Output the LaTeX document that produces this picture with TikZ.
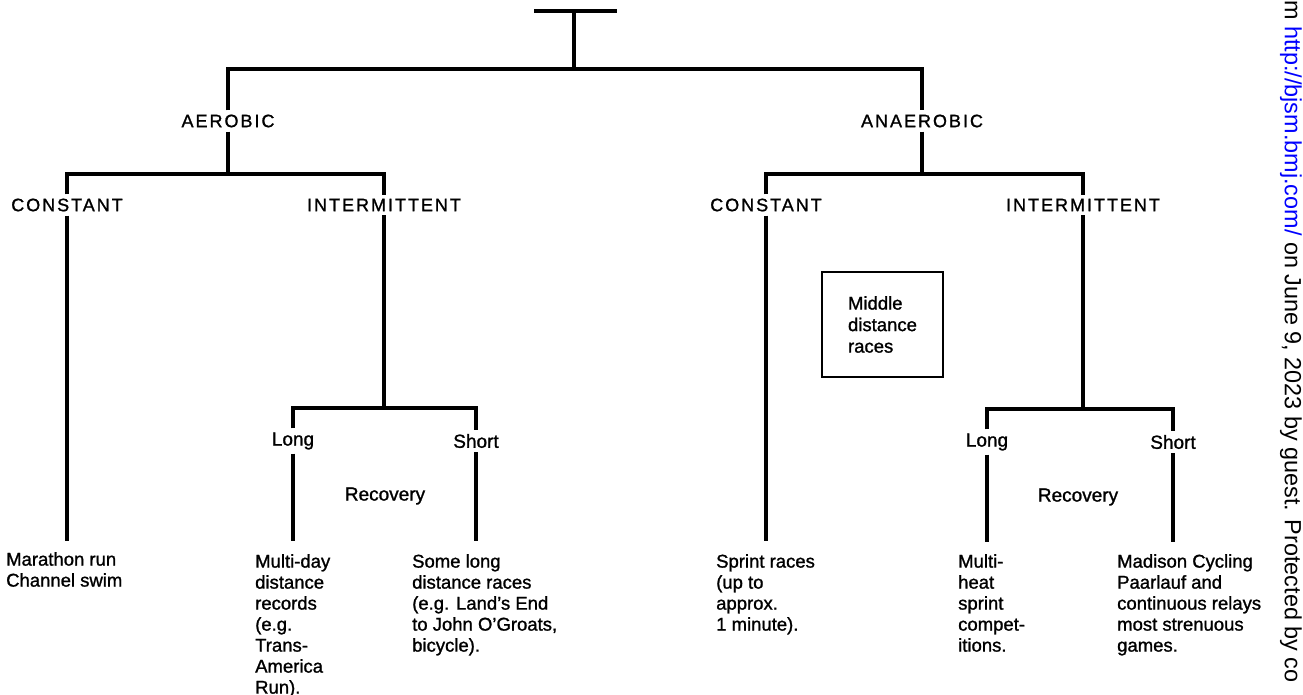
\documentclass[tikz,border=0pt]{standalone}
\usepackage{fontspec}
\setmainfont[FakeBold=1.2]{Liberation Sans}
\newfontfamily\capsfont[LetterSpace=11,FakeBold=1.2]{Liberation Sans}
\newfontfamily\wmfont{Liberation Sans}
\begin{document}
\begin{tikzpicture}[x=1pt,y=-1pt,
  br/.style={draw=black, line width=3.1pt, line join=miter},
  capslab/.style={font=\capsfont\fontsize{18}{21}\selectfont, inner sep=4pt},
  lab/.style={font=\fontsize{19}{21}\selectfont, inner sep=4pt},
  txt/.style={font=\fontsize{18.5}{21}\selectfont, align=left, anchor=north west, inner sep=0pt},
  boxnode/.style={draw=black, line width=2.6pt, minimum width=121pt, minimum height=105pt, align=left, font=\fontsize{18.5}{21.5}\selectfont}]
\useasboundingbox (0,0) rectangle (1303,695);
% top
\coordinate (tl) at (534,11);
\coordinate (tr) at (617,11);
\coordinate (tm) at (574,11);
\coordinate (j0) at (574,69);
\coordinate (aL) at (228,69);
\coordinate (aR) at (922,69);
\node[capslab] (aer) at (228,121) {AEROBIC};
\node[capslab] (ana) at (922,121) {ANAEROBIC};
\draw[br] (tl) -- (tr);
\draw[br] (tm) -- (j0);
\draw[br] (aer) -- (aL) -- (aR) -- (ana);
% aerobic split
\coordinate (a1) at (228,174);
\coordinate (acL) at (67,174);
\coordinate (aiR) at (384,174);
\node[capslab] (acon) at (67,205) {CONSTANT};
\node[capslab] (aint) at (384,205) {INTERMITTENT};
\draw[br] (aer) -- (a1);
\draw[br] (acon) -- (acL) -- (aiR) -- (aint);
% anaerobic split
\coordinate (n1) at (922,174);
\coordinate (ncL) at (766,174);
\coordinate (niR) at (1083,174);
\node[capslab] (ncon) at (766,205) {CONSTANT};
\node[capslab] (nint) at (1083,205) {INTERMITTENT};
\draw[br] (ana) -- (n1);
\draw[br] (ncon) -- (ncL) -- (niR) -- (nint);
% aerobic constant
\coordinate (acE) at (67,541);
\draw[br] (acon) -- (acE);
\node[txt] (mar) at (6,552) {Marathon run\\Channel swim};
% aerobic intermittent
\coordinate (ai1) at (384,408);
\coordinate (alL) at (293,408);
\coordinate (asR) at (476,408);
\node[lab] (along) at (293,441) {Long};
\node[lab] (ashort) at (476,441) {Short};
\draw[br] (aint) -- (ai1);
\draw[br] (along) -- (alL) -- (asR) -- (ashort);
\coordinate (alE) at (293,541);
\coordinate (asE) at (476,541);
\draw[br] (along) -- (alE);
\draw[br] (ashort) -- (asE);
\node[lab] (arec) at (385,496) {Recovery};
\node[txt] (amd) at (255,554) {Multi-day\\distance\\records\\(e.g.\\Trans-\\America\\Run).};
\node[txt] (asl) at (412,554) {Some long\\distance races\\(e.g. Land's End\\to John O'Groats,\\bicycle).};
% anaerobic constant
\coordinate (ncE) at (766,541);
\draw[br] (ncon) -- (ncE);
\node[txt] (spr) at (716,554) {Sprint races\\(up to\\approx.\\1 minute).};
\node[boxnode] (mid) at (882.5,324.5) {Middle\\distance\\races};
% anaerobic intermittent
\coordinate (ni1) at (1083,409);
\coordinate (nlL) at (987,409);
\coordinate (nsR) at (1173,409);
\node[lab] (nlong) at (987,442) {Long};
\node[lab] (nshort) at (1173,442) {Short};
\draw[br] (nint) -- (ni1);
\draw[br] (nlong) -- (nlL) -- (nsR) -- (nshort);
\coordinate (nlE) at (987,542);
\coordinate (nsE) at (1173,542);
\draw[br] (nlong) -- (nlE);
\draw[br] (nshort) -- (nsE);
\node[lab] (nrec) at (1078,497) {Recovery};
\node[txt] (nmh) at (958,554) {Multi-\\heat\\sprint\\compet-\\itions.};
\node[txt] (nmad) at (1117,554) {Madison Cycling\\Paarlauf and\\continuous relays\\most strenuous\\games.};
% watermark
\node[rotate=-90, anchor=west, inner sep=0pt, font=\wmfont\fontsize{23.4}{24}\selectfont] (wm) at (1291,0) {m \textcolor{blue}{http://bjsm.bmj.com/} on June 9, 2023 by guest. Protected by co};
\end{tikzpicture}
\end{document}
